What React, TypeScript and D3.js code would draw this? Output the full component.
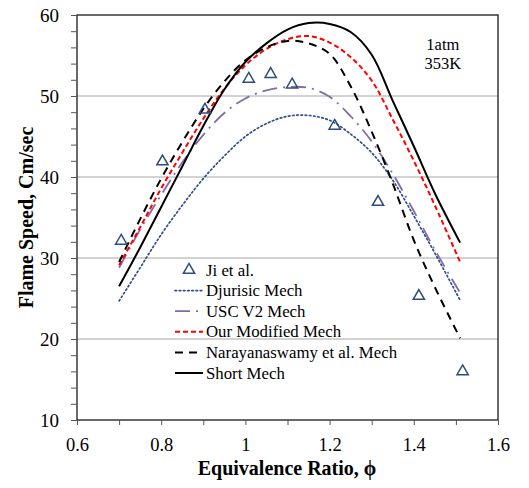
import React, { useEffect, useRef } from "react";
import * as d3 from "d3";

// equivalence ratio grid of the model curves
const phi = [0.7, 0.75, 0.8, 0.85, 0.9, 0.95, 1.0, 1.05, 1.1, 1.15, 1.2, 1.25, 1.3, 1.35, 1.4, 1.45, 1.51];

const djurisic = [24.7, 28.8, 32.9, 36.5, 39.8, 42.6, 45.0, 46.6, 47.5, 47.6, 47.0, 45.3, 43.0, 39.6, 35.2, 30.6, 24.8];
const uscV2 = [28.8, 33.5, 37.8, 41.8, 45.2, 47.9, 49.7, 50.7, 51.1, 51.0, 49.9, 47.5, 44.4, 40.4, 35.8, 31.0, 25.7];
const ourModified = [29.1, 33.8, 38.6, 43.0, 47.2, 50.9, 53.8, 55.8, 57.0, 57.4, 56.6, 54.8, 51.9, 47.1, 42.0, 36.5, 29.5];
const narayanaswamy = [29.5, 34.8, 39.8, 44.3, 48.4, 51.8, 54.4, 56.0, 56.8, 56.5, 55.2, 51.2, 45.6, 39.2, 32.2, 26.4, 20.1];
const shortMech = [26.5, 31.3, 36.3, 41.3, 46.3, 50.8, 54.2, 56.5, 58.2, 59.0, 58.9, 57.9, 55.1, 49.4, 43.8, 38.0, 31.9];

// Ji et al. measurements
const jiPhi = [0.705, 0.803, 0.904, 1.008, 1.06, 1.111, 1.212, 1.315, 1.412, 1.516];
const jiSpeed = [32.1, 41.9, 48.3, 52.1, 52.7, 51.4, 46.3, 36.9, 25.3, 16.0];

const xTicks = [0.6, 0.8, 1.0, 1.2, 1.4, 1.6];
const yTicks = [10, 20, 30, 40, 50, 60];

const series = [
  { name: "Djurisic Mech", values: djurisic, color: "#2f4f8a", dash: "1.6,2.6", width: 1.7, cap: "round" },
  { name: "USC V2 Mech", values: uscV2, color: "#7f6ea6", dash: "15,6,2,6", width: 1.8, cap: "butt" },
  { name: "Our Modified Mech", values: ourModified, color: "#ff0000", dash: "5,3", width: 2, cap: "butt" },
  { name: "Narayanaswamy et al. Mech", values: narayanaswamy, color: "#000000", dash: "8,6", width: 2, cap: "butt" },
  { name: "Short Mech", values: shortMech, color: "#000000", dash: null, width: 2, cap: "butt" },
];

const FONT = "Liberation Serif, Times New Roman, Times, serif";

const App = () => {
  const svgRef = useRef(null);

  useEffect(() => {
    const svg = d3.select(svgRef.current);
    svg.selectAll("*").remove();

    const W = 529;
    const H = 488;
    const margin = { top: 15, right: 31, bottom: 68, left: 77 };
    const width = W - margin.left - margin.right;
    const height = H - margin.top - margin.bottom;

    svg.attr("width", W).attr("height", H).style("font-family", FONT);

    const g = svg.append("g").attr("transform", `translate(${margin.left},${margin.top})`);

    const x = d3.scaleLinear().domain([0.6, 1.6]).range([0, width]);
    const y = d3.scaleLinear().domain([10, 60]).range([height, 0]);

    // gridlines
    g.selectAll(".grid")
      .data([20, 30, 40, 50])
      .enter()
      .append("line")
      .attr("x1", 0)
      .attr("x2", width)
      .attr("y1", (d) => y(d))
      .attr("y2", (d) => y(d))
      .attr("stroke", "#a6a6a6")
      .attr("stroke-width", 1);

    // plot border
    g.append("rect")
      .attr("width", width)
      .attr("height", height)
      .attr("fill", "none")
      .attr("stroke", "#1a1a1a")
      .attr("stroke-width", 1.3);

    // y axis (minor ticks every 2)
    const yAxis = g
      .append("g")
      .call(
        d3
          .axisLeft(y)
          .tickValues(d3.range(10, 61, 2))
          .tickSize(6)
          .tickFormat((d) => (yTicks.includes(+d) ? String(d) : ""))
      )
      .attr("font-family", FONT)
      .attr("font-size", 19);
    yAxis.select(".domain").remove();
    yAxis.selectAll("line").attr("stroke", "#555");
    yAxis.selectAll("text").style("font-family", FONT).attr("fill", "#000").attr("x", -18);
    yAxis.selectAll("text").filter((d) => !yTicks.includes(+d)).remove();

    // x axis (ticks every 0.1)
    const xAxis = g
      .append("g")
      .attr("transform", `translate(0,${height})`)
      .call(
        d3
          .axisBottom(x)
          .tickValues(d3.range(6, 17).map((v) => v / 10))
          .tickSize(5)
          .tickFormat((d) => (xTicks.some((t) => Math.abs(t - +d) < 1e-6) ? d3.format("")(d) : ""))
      )
      .attr("font-family", FONT)
      .attr("font-size", 18.5);
    xAxis.select(".domain").remove();
    xAxis.selectAll("line").attr("stroke", "#555");
    xAxis.selectAll("text").style("font-family", FONT).attr("fill", "#000").attr("y", 18);
    xAxis
      .selectAll("text")
      .filter((d) => !xTicks.some((t) => Math.abs(t - +d) < 1e-6))
      .remove();

    // curves
    const line = d3
      .line()
      .x((d) => x(d[0]))
      .y((d) => y(d[1]))
      .curve(d3.curveCatmullRom.alpha(0.5));

    series.forEach((s) => {
      g.append("path")
        .datum(phi.map((p, i) => [p, s.values[i]]))
        .attr("d", line)
        .attr("fill", "none")
        .attr("stroke", s.color)
        .attr("stroke-width", s.width)
        .attr("stroke-linecap", s.cap)
        .attr("stroke-dasharray", s.dash);
    });

    // Ji et al. triangles
    const tri = d3.symbol().type(d3.symbolTriangle).size(55);
    g.selectAll(".ji")
      .data(jiPhi.map((p, i) => [p, jiSpeed[i]]))
      .enter()
      .append("path")
      .attr("class", "ji")
      .attr("d", tri)
      .attr("transform", (d) => `translate(${x(d[0])},${y(d[1])})`)
      .attr("fill", "none")
      .attr("stroke", "#2e4d7b")
      .attr("stroke-width", 1.5);

    // annotation
    g.append("text")
      .attr("x", x(1.469))
      .attr("y", 35)
      .attr("text-anchor", "middle")
      .style("font-family", FONT)
      .attr("font-size", 16.5)
      .text("1atm");
    g.append("text")
      .attr("x", x(1.469))
      .attr("y", 54)
      .attr("text-anchor", "middle")
      .style("font-family", FONT)
      .attr("font-size", 16.5)
      .text("353K");

    // legend
    const legend = g.append("g").attr("transform", `translate(${175 - margin.left}, ${270 - margin.top})`);
    legend
      .append("path")
      .attr("d", tri)
      .attr("transform", "translate(14,0)")
      .attr("fill", "none")
      .attr("stroke", "#2e4d7b")
      .attr("stroke-width", 1.5);
    legend
      .append("text")
      .attr("x", 31)
      .attr("y", 5.5)
      .style("font-family", FONT)
      .attr("font-size", 16.8)
      .text("Ji et al.");

    const items = legend
      .selectAll(".legend-item")
      .data(series)
      .enter()
      .append("g")
      .attr("class", "legend-item")
      .attr("transform", (d, i) => `translate(0, ${(i + 1) * 20.6})`);

    items
      .append("line")
      .attr("x1", 0)
      .attr("x2", 28)
      .attr("stroke", (d) => d.color)
      .attr("stroke-width", (d) => d.width)
      .attr("stroke-linecap", (d) => d.cap)
      .attr("stroke-dasharray", (d) => d.dash);

    items
      .append("text")
      .attr("x", 31)
      .attr("y", 5.5)
      .style("font-family", FONT)
      .attr("font-size", 16.8)
      .text((d) => d.name);

    // axis titles
    svg
      .append("text")
      .attr("x", 287)
      .attr("y", 475)
      .attr("text-anchor", "middle")
      .style("font-family", FONT)
      .attr("font-size", 20)
      .attr("font-weight", "bold")
      .text("Equivalence Ratio, \u03d5");

    svg
      .append("text")
      .attr("transform", `translate(33, ${margin.top + height / 2}) rotate(-90)`)
      .attr("text-anchor", "middle")
      .style("font-family", FONT)
      .attr("font-size", 20)
      .attr("font-weight", "bold")
      .text("Flame Speed, Cm/sec");
  }, []);

  return (
    <div style={{ position: "absolute", left: 0, top: 0, background: "#fff" }}>
      <svg ref={svgRef}></svg>
    </div>
  );
};

export default App;
